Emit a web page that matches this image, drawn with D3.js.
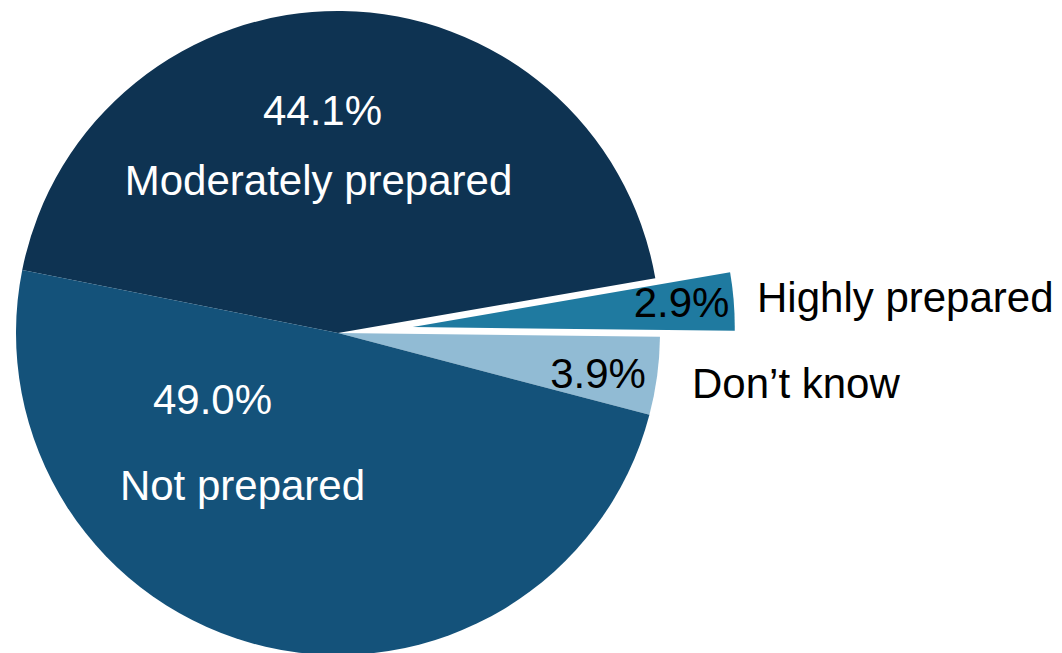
<!DOCTYPE html>
<html>
<head>
<meta charset="utf-8">
<script src="https://cdn.jsdelivr.net/npm/d3@7"></script>
<style>
  html, body { margin: 0; padding: 0; background: #ffffff; }
  svg { display: block; }
  text { font-family: "Liberation Sans", Arial, sans-serif; }
</style>
</head>
<body>
<svg id="chart" width="1062" height="653"></svg>
<script>
// ---- data ----
const categories = ["Moderately prepared", "Highly prepared", "Don’t know", "Not prepared"];
const values = [44.1, 2.9, 3.9, 49.0];
const valueLabels = ["44.1%", "2.9%", "3.9%", "49.0%"];
const colors = ["#0E3352", "#1F7AA0", "#91BBD4", "#14527A"];

// ---- layout ----
const W = 1062, H = 653;
const cx = 338, cy = 333, R = 322;
const startDeg = -78.7;
const explode = [0, 75, 0, 0];
const fontSize = 42;
// label placement: [x, y(baseline), anchor, colour] for value and category labels
const valuePos = [
  [322.5, 125, "middle", "#ffffff"],
  [681.5, 317, "middle", "#000000"],
  [598, 388, "middle", "#000000"],
  [212.5, 414, "middle", "#ffffff"]
];
const catPos = [
  [318.5, 195, "middle", "#ffffff"],
  [757, 312, "start", "#000000"],
  [692, 398, "start", "#000000"],
  [242.5, 500, "middle", "#ffffff"]
];

const svg = d3.select("#chart");
svg.append("rect").attr("width", W).attr("height", H).attr("fill", "#ffffff");

const start = startDeg * Math.PI / 180;
const pie = d3.pie().sort(null).value(d => d).startAngle(start).endAngle(start + 2 * Math.PI);
const arc = d3.arc().innerRadius(0).outerRadius(R);
const arcs = pie(values);

const g = svg.append("g").attr("transform", `translate(${cx},${cy})`);
g.selectAll("path.slice")
  .data(arcs)
  .join("path")
  .attr("class", "slice")
  .attr("fill", (d, i) => colors[i])
  .attr("transform", (d, i) => {
    const mid = (d.startAngle + d.endAngle) / 2;
    const off = explode[i];
    return `translate(${off * Math.sin(mid)},${-off * Math.cos(mid)})`;
  })
  .attr("d", arc);

svg.selectAll("text.val")
  .data(valueLabels)
  .join("text")
  .attr("class", "val")
  .attr("x", (d, i) => valuePos[i][0])
  .attr("y", (d, i) => valuePos[i][1])
  .attr("text-anchor", (d, i) => valuePos[i][2])
  .attr("fill", (d, i) => valuePos[i][3])
  .attr("font-size", fontSize)
  .text(d => d);

svg.selectAll("text.cat")
  .data(categories)
  .join("text")
  .attr("class", "cat")
  .attr("x", (d, i) => catPos[i][0])
  .attr("y", (d, i) => catPos[i][1])
  .attr("text-anchor", (d, i) => catPos[i][2])
  .attr("fill", (d, i) => catPos[i][3])
  .attr("font-size", fontSize)
  .text(d => d);
</script>
</body>
</html>
